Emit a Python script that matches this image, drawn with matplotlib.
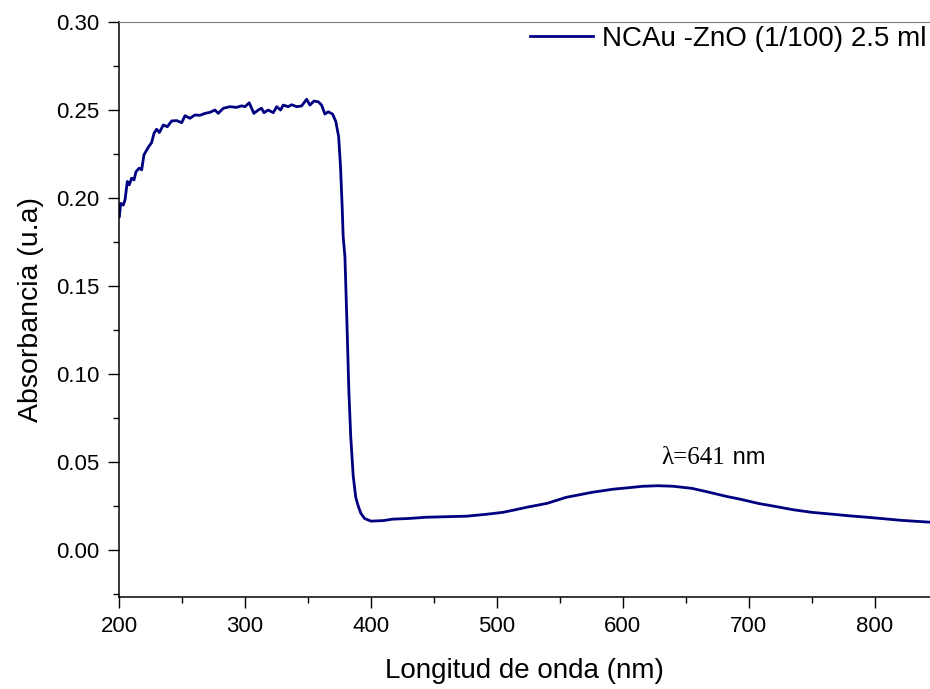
import matplotlib
matplotlib.use("Agg")
import matplotlib.pyplot as plt
from matplotlib.ticker import MultipleLocator

# Spectrum
wavelength = [
    200.3, 201.3, 203.4, 204.8, 206.6, 208.2, 210.0, 211.9, 213.5, 216.1,
    218.0, 219.8, 223.3, 225.9, 227.8, 229.9, 232.0, 235.2, 238.4, 241.8,
    245.8, 249.8, 252.4, 256.3, 260.3, 264.3, 268.3, 272.2, 276.2, 278.8,
    282.8, 288.1, 293.4, 297.4, 300.0, 303.4, 307.1, 310.6, 313.2, 315.1,
    318.5, 322.5, 325.2, 328.3, 330.4, 334.4, 337.1, 341.1, 345.0, 349.0,
    351.6, 354.8, 358.2, 360.9, 363.5, 366.1, 369.6, 372.2, 374.4, 375.9,
    377.2, 378.0, 379.4, 381.0, 382.5, 384.0, 386.0, 388.0, 390.0, 392.0,
    395.0, 400.0, 410.0, 417.0, 430.0, 444.0, 460.0, 476.0, 492.0, 505.0,
    515.0, 524.0, 540.0, 555.0, 576.0, 592.0, 605.0, 616.0, 628.0, 640.0,
    655.0, 668.0, 682.0, 693.0, 708.0, 720.0, 735.0, 750.0, 767.0, 780.0,
    794.0, 808.0, 820.0, 835.0, 844.0,
]
absorbance = [
    0.1895, 0.1970, 0.1960, 0.1990, 0.2094, 0.2075, 0.2113, 0.2103, 0.2150, 0.2170,
    0.2160, 0.2245, 0.2289, 0.2315, 0.2368, 0.2391, 0.2372, 0.2415, 0.2405, 0.2438,
    0.2440, 0.2428, 0.2468, 0.2453, 0.2472, 0.2470, 0.2481, 0.2487, 0.2500, 0.2481,
    0.2510, 0.2519, 0.2515, 0.2524, 0.2519, 0.2541, 0.2481, 0.2500, 0.2510, 0.2485,
    0.2500, 0.2485, 0.2519, 0.2500, 0.2528, 0.2519, 0.2530, 0.2519, 0.2523, 0.2561,
    0.2528, 0.2551, 0.2547, 0.2528, 0.2477, 0.2490, 0.2477, 0.2434, 0.2349, 0.2179,
    0.1952, 0.1782, 0.1667, 0.1290, 0.0910, 0.0646, 0.0420, 0.0300, 0.0250, 0.0210,
    0.0180, 0.0165, 0.0168, 0.0176, 0.0180, 0.0187, 0.0190, 0.0193, 0.0204, 0.0215,
    0.0230, 0.0244, 0.0266, 0.0300, 0.0329, 0.0346, 0.0355, 0.0363, 0.0366, 0.0363,
    0.0351, 0.0330, 0.0306, 0.0290, 0.0265, 0.0250, 0.0230, 0.0215, 0.0204, 0.0195,
    0.0187, 0.0178, 0.0170, 0.0163, 0.0159,
]
series_label = "NCAu -ZnO (1/100) 2.5 ml"
peak_label = "λ=641"

plt.rcParams["font.family"] = ["Liberation Sans", "DejaVu Sans"]

W, H = 930, 689
fig = plt.figure(figsize=(W / 100, H / 100), dpi=100)
ax = fig.add_axes([119 / W, (H - 597) / H, (W - 119) / W, (597 - 22) / H])

line, = ax.plot(wavelength, absorbance, color="#000080", lw=2)

ax.set_xlim(200, 844)
ax.set_ylim(-0.0266, 0.30)
ax.xaxis.set_major_locator(MultipleLocator(100))
ax.xaxis.set_minor_locator(MultipleLocator(50))
ax.yaxis.set_major_locator(MultipleLocator(0.05))
ax.yaxis.set_minor_locator(MultipleLocator(0.025))
ax.yaxis.set_major_formatter(plt.FormatStrFormatter("%.2f"))

ax.tick_params(which="major", direction="out", length=8, width=1, labelsize=16, pad=6)
ax.tick_params(which="minor", direction="out", length=4.5, width=1)
ax.spines["right"].set_visible(False)
ax.spines["top"].set_color("#808080")
for s in ("left", "bottom"):
    ax.spines[s].set_linewidth(1.1)

ax.set_xlabel("Longitud de onda (nm)", fontsize=20, labelpad=15)
ax.set_ylabel("Absorbancia (u.a)", fontsize=20.5, labelpad=9)

ax.legend([line], [series_label], loc="upper right", frameon=False,
          fontsize=20, handlelength=2.3, handletextpad=0.3,
          borderaxespad=0, borderpad=0.1,
          bbox_to_anchor=(929 / W, 1 - 23 / H), bbox_transform=fig.transFigure)

t1 = ax.text(631, 0.0525, peak_label, family="Liberation Serif",
             fontsize=18, va="center", ha="left")
ax.annotate(" nm", xy=(1, 0), xycoords=t1, va="bottom", ha="left", fontsize=17)

fig.savefig("out.png", dpi=100)
